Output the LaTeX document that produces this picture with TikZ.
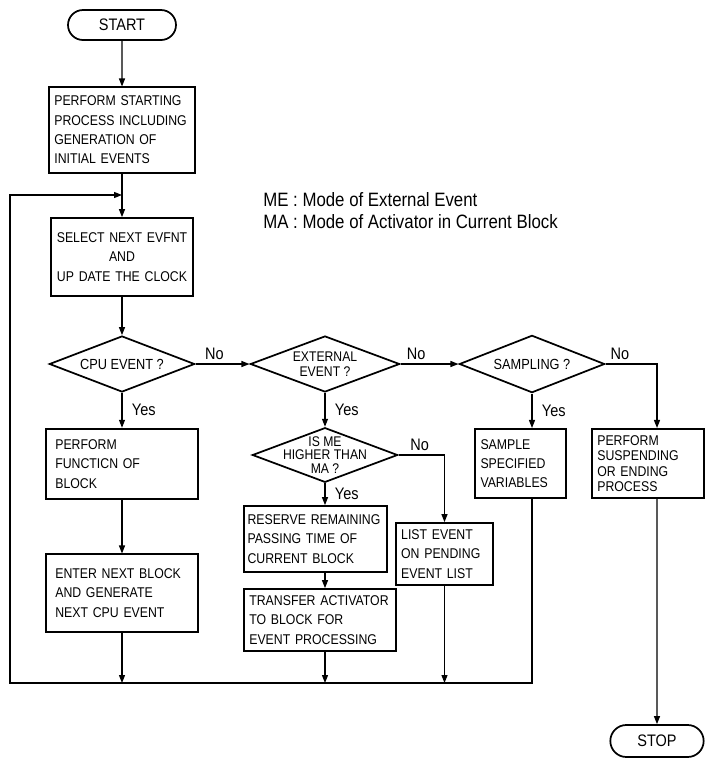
\documentclass[tikz,border=0pt]{standalone}
\usepackage{fontspec}
\newfontfamily\chartfont{Liberation Sans}[FakeStretch=0.87]
\usepackage{tikz}
\usetikzlibrary{positioning, arrows.meta, shapes.geometric, shapes.misc}
\tikzset{
  procbox/.style={draw, line width=1.3pt, inner xsep=4pt, inner ysep=2pt, align=left,
    execute at begin node={\hyphenpenalty=10000 \exhyphenpenalty=10000 },
    font=\chartfont\fontsize{10.6}{14.5}\selectfont},
  termbox/.style={draw, rounded rectangle, line width=1.3pt, inner sep=2pt,
    font=\chartfont\fontsize{12.5}{14}\selectfont},
  decision/.style={draw, diamond, line width=1.3pt, inner sep=0pt, shape aspect=2.6, align=center,
    minimum width=109pt, minimum height=42pt, font=\chartfont\fontsize{11}{12}\selectfont},
  flowline/.style={line width=0.9pt},
  flowarr/.style={flowline, -{Triangle[length=6pt,width=4.5pt]}},
  yesno/.style={font=\chartfont\fontsize{12.5}{14}\selectfont, inner sep=3pt},
  legend/.style={anchor=west, inner sep=0pt, font=\chartfont\fontsize{14.5}{16}\selectfont},
}

\begin{document}
\begin{tikzpicture}[x=0.75pt, y=-0.75pt]
  \useasboundingbox (0,0) rectangle (705,758);
  % start and stop
  \node[termbox, minimum width=85pt, minimum height=22.5pt] (start) at (122,25) {START};
  \node[termbox, minimum width=74pt, minimum height=24pt] (stop) at (657,741) {STOP};
  % main column
  \node[procbox, text width=101.5pt, minimum height=64pt] (init) at (122,130)
    {PERFORM STARTING\\PROCESS INCLUDING\\GENERATION OF\\INITIAL EVENTS};
  \node[procbox, text width=98.5pt, minimum height=58.5pt, align=center] (select) at (122,257)
    {SELECT NEXT EVFNT\\AND\\UP DATE THE CLOCK};
  \node[decision] (cpu) at (122,364) {CPU EVENT ?};
  \node[procbox, inner xsep=7pt, text width=100pt, minimum height=53pt] (func) at (122,464)
    {PERFORM\\FUNCTICN OF\\BLOCK};
  \node[procbox, inner xsep=7pt, text width=100pt, minimum height=58pt] (enter) at (122,593)
    {ENTER NEXT BLOCK\\AND GENERATE\\NEXT CPU EVENT};
  % external events
  \node[decision, minimum width=112pt, font=\chartfont\fontsize{10.5}{11}\selectfont] (ext) at (325,364)
    {EXTERNAL\\EVENT ?};
  \node[decision, inner sep=-6pt, minimum height=41pt, font=\chartfont\fontsize{10.5}{10}\selectfont] (isme) at (325,455)
    {IS ME\\HIGHER THAN\\MA ?};
  \node[procbox, inner xsep=2.5pt, text width=102pt, minimum height=49.5pt] (reserve) at (315.5,539)
    {RESERVE REMAINING\\PASSING TIME OF\\CURRENT BLOCK};
  \node[procbox, text width=106pt, minimum height=46.5pt] (transfer) at (320,620)
    {TRANSFER ACTIVATOR\\TO BLOCK FOR\\EVENT PROCESSING};
  \node[procbox, text width=65pt, minimum height=46.5pt] (pending) at (444.5,554)
    {LIST EVENT\\ON PENDING\\EVENT LIST};
  % sampling and ending
  \node[decision, minimum height=43pt] (sampling) at (532,364) {SAMPLING ?};
  \node[procbox, text width=60pt, minimum height=52pt] (sample) at (520.5,463.5)
    {SAMPLE\\SPECIFIED\\VARIABLES};
  \node[procbox, text width=76pt, minimum height=52pt, font=\chartfont\fontsize{10.6}{11.5}\selectfont] (suspend) at (648,463.5)
    {PERFORM\\SUSPENDING\\OR ENDING\\PROCESS};
  % legend
  \node[legend] (me) at (263,200) {ME : Mode of External Event};
  \node[legend] (ma) at (263,222) {MA : Mode of Activator in Current Block};

  % connectors
  \coordinate (join) at (122,195);
  \coordinate (bl) at (10,683);
  \draw[flowarr] (start) -- (init);
  \draw[flowline] (init) -- (join);
  \draw[flowarr] (join) -- (select);
  \draw[flowarr] (select) -- (cpu);
  \draw[flowarr] (cpu) -- node[yesno, right=4pt] {Yes} (func);
  \draw[flowarr] (func) -- (enter);
  \draw[flowarr] (enter) -- (enter |- bl);
  \draw[flowarr] (cpu) -- node[yesno, above, pos=0.35] {No} (ext);
  \draw[flowarr] (ext) -- node[yesno, above, pos=0.27] {No} (sampling);
  \draw[flowarr] (ext) -- node[yesno, right=4pt] {Yes} (isme);
  \draw[flowarr] (isme.south) -- node[yesno, right=4pt] {Yes} (isme.south |- reserve.north);
  \draw[flowarr] (reserve.south -| isme.south) -- (transfer.north -| isme.south);
  \draw[flowarr] (transfer.south -| isme.south) -- (isme.south |- bl);
  \draw[flowarr] (isme.east) -| node[yesno, above, pos=0.23] {No} (pending.north);
  \draw[flowarr] (pending) -- (pending |- bl);
  \draw[flowarr] (sampling.south) -- node[yesno, right=4pt] {Yes} (sampling.south |- sample.north);
  \draw[flowarr] (sampling.east) -| node[yesno, above, pos=0.14] {No} (stop.north |- suspend.north);
  \draw[flowarr] (suspend.south -| stop.north) -- (stop);
  % back to the clock
  \draw[flowarr] (sampling.south |- sample.south) |- (bl) |- (join);
\end{tikzpicture}
\end{document}
